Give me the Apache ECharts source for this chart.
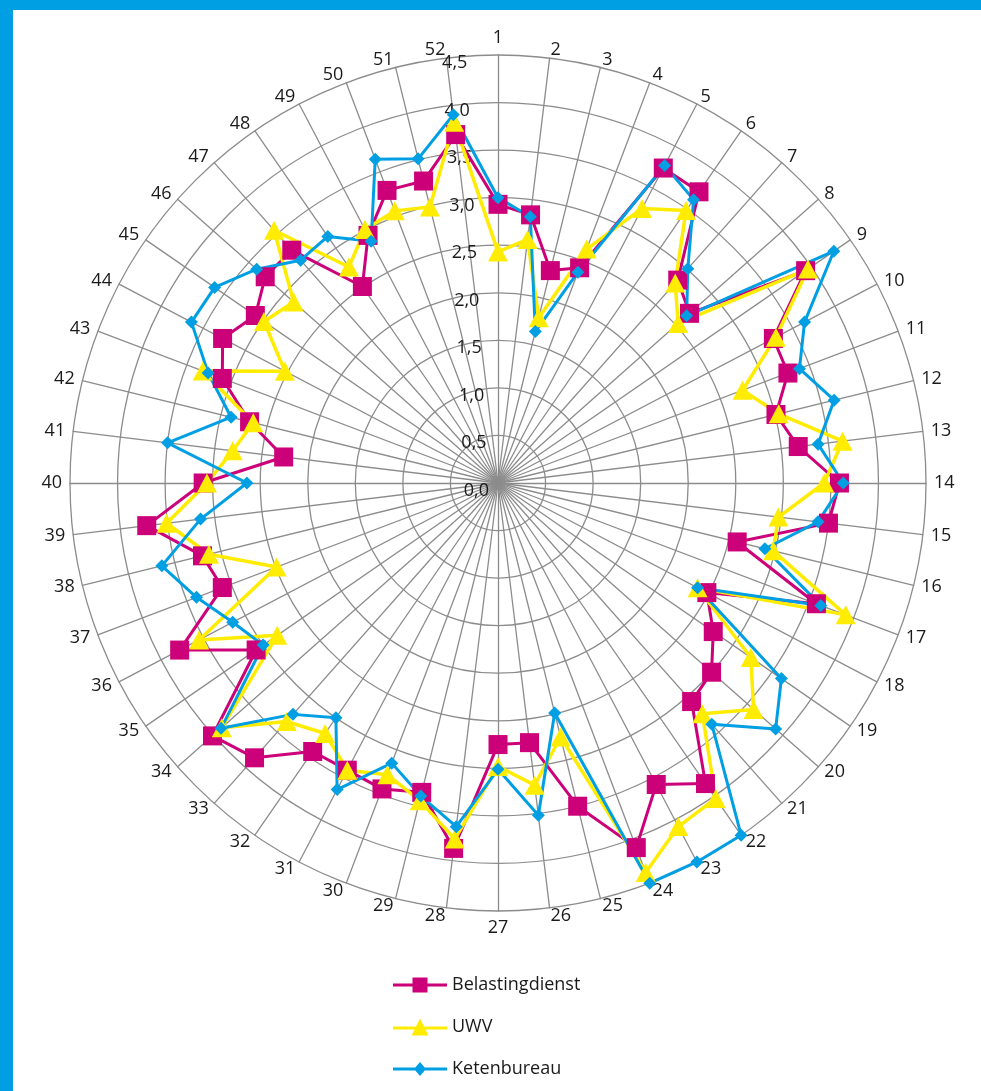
<!DOCTYPE html>
<html>
<head>
<meta charset="utf-8">
<script src="https://cdn.jsdelivr.net/npm/echarts@6/dist/echarts.min.js"></script>
<style>
  html, body { margin: 0; padding: 0; background: #ffffff; }
  #chart { position: absolute; left: 0; top: 0; width: 981px; height: 1091px; }
  .band { position: absolute; background: #009fe3; pointer-events: none; }
</style>
</head>
<body>
<div id="chart"></div>
<div class="band" style="left:0;top:0;width:981px;height:10px"></div>
<div class="band" style="left:0;top:0;width:13px;height:1091px"></div>
<script>
// Weeks 1..52 around the dial (clockwise from the top)
const weeks = Array.from({ length: 52 }, (_, i) => String(i + 1));

// Scale labels on the radial axis
const tickLabels = ['0,0', '0,5', '1,0', '1,5', '2,0', '2,5', '3,0', '3,5', '4,0', '4,5'];
const scaleMax = 4.5;
const tickStep = 0.5;

const seriesNames = ['Belastingdienst', 'UWV', 'Ketenbureau'];

// Scores per week, week 1 first
const belastingdienst = [
  2.93, 2.84, 2.30, 2.42, 3.74, 3.72, 2.85, 2.69, 3.93, 3.27,
  3.26, 3.01, 3.18, 3.59, 3.50, 2.59, 3.58, 2.48, 2.75, 3.00,
  3.07, 3.84, 3.58, 4.10, 3.50, 2.75, 2.75, 3.87, 3.35, 3.44,
  3.41, 3.43, 3.86, 4.01, 3.09, 3.78, 3.10, 3.20, 3.72, 3.10,
  2.27, 2.69, 3.10, 3.27, 3.10, 3.27, 3.27, 2.51, 2.94, 3.29,
  3.27, 3.69
];
const uwv = [
  2.43, 2.58, 1.79, 2.63, 3.26, 3.48, 2.81, 2.53, 3.96, 3.30,
  2.75, 3.04, 3.65, 3.43, 2.97, 2.98, 3.91, 2.37, 3.23, 3.59,
  3.24, 4.03, 4.08, 4.38, 2.75, 3.20, 2.98, 3.77, 3.44, 3.28,
  3.41, 3.20, 3.35, 3.88, 2.82, 3.55, 2.49, 3.13, 3.51, 3.06,
  2.81, 2.65, 3.32, 2.53, 2.99, 2.87, 3.55, 2.76, 3.01, 3.06,
  2.99, 3.82
];
const ketenbureau = [
  3.00, 2.82, 1.64, 2.37, 3.77, 3.62, 3.01, 2.65, 4.29, 3.64,
  3.39, 3.64, 3.39, 3.63, 3.39, 2.89, 3.63, 2.37, 3.62, 3.90,
  3.39, 4.50, 4.50, 4.50, 2.49, 3.52, 3.01, 3.64, 3.39, 3.15,
  3.64, 3.00, 3.25, 3.89, 3.00, 3.15, 3.39, 3.64, 3.15, 2.64,
  3.50, 2.89, 3.26, 3.64, 3.62, 3.39, 3.13, 3.15, 2.87, 3.64,
  3.51, 3.90
];

// The radar lays indicators out counter-clockwise, so keep week 1 on top
// and feed the remaining weeks in reverse to run the dial clockwise.
const clockwise = arr => [arr[0]].concat(arr.slice(1).reverse());

const FONT = '"Open Sans", "Noto Sans", sans-serif';
const TEXT = '#1a1a1a';
const GRID = '#8c8c8c';
const CENTER = [498, 483];
const RADIUS = 428;

const indicators = clockwise(weeks).map(w => ({ name: w, min: 0, max: scaleMax }));

const styles = [
  { color: '#cc0078', symbol: 'rect', size: 19, width: 3,
    icon: 'path://M0 6H54V9H0Z M19.5 0H34.5V15H19.5Z' },
  { color: '#ffec00', symbol: 'triangle', size: [20, 19], width: 3.5,
    icon: 'path://M0 8H54V11H0Z M27 0L35.5 17H18.5Z' },
  { color: '#009fe3', symbol: 'diamond', size: 13, width: 3,
    icon: 'path://M0 5.5H54V8.5H0Z M27 0L33 7L27 14L21 7Z' }
];
const values = [belastingdienst, uwv, ketenbureau];

const chart = echarts.init(document.getElementById('chart'), null, { renderer: 'canvas' });

chart.setOption({
  animation: false,
  backgroundColor: '#ffffff',
  legend: {
    orient: 'vertical',
    left: 393,
    top: 976,
    padding: 0,
    itemWidth: 54,
    itemHeight: 17,
    itemGap: 24,
    selectedMode: false,
    textStyle: { fontSize: 18, color: TEXT, fontFamily: FONT },
    data: seriesNames.map((n, i) => ({ name: n, icon: styles[i].icon }))
  },
  // value scale, set just below and left of week 1 so its labels sit under each ring
  polar: { center: [CENTER[0], CENTER[1] + 7], radius: RADIUS },
  angleAxis: { type: 'value', startAngle: 92.9, min: 0, max: 360, show: false },
  radiusAxis: {
    type: 'value',
    min: 0,
    max: scaleMax,
    interval: tickStep,
    axisLine: { show: false },
    axisTick: { show: false },
    splitLine: { show: false },
    splitArea: { show: false },
    axisLabel: {
      color: TEXT,
      fontSize: 18,
      fontFamily: FONT,
      margin: 9,
      formatter: v => tickLabels[Math.round(v / tickStep)]
    },
    z: 1
  },
  radar: {
    center: CENTER,
    radius: RADIUS,
    startAngle: 90,
    shape: 'circle',
    splitNumber: Math.round(scaleMax / tickStep),
    indicator: indicators,
    nameGap: 8,
    axisName: { color: TEXT, fontSize: 18, fontFamily: FONT },
    axisLine: { lineStyle: { color: GRID, width: 1.3 } },
    splitLine: { lineStyle: { color: GRID, width: 1.3 } },
    splitArea: { show: false },
    axisTick: { show: false },
    axisLabel: { show: false }
  },
  series: [{
    type: 'radar',
    z: 3,
    data: values.map((vals, i) => ({
      name: seriesNames[i],
      value: clockwise(vals),
      symbol: styles[i].symbol,
      symbolSize: styles[i].size,
      lineStyle: { color: styles[i].color, width: styles[i].width },
      itemStyle: { color: styles[i].color, borderWidth: 0 }
    }))
  }]
});
</script>
</body>
</html>
